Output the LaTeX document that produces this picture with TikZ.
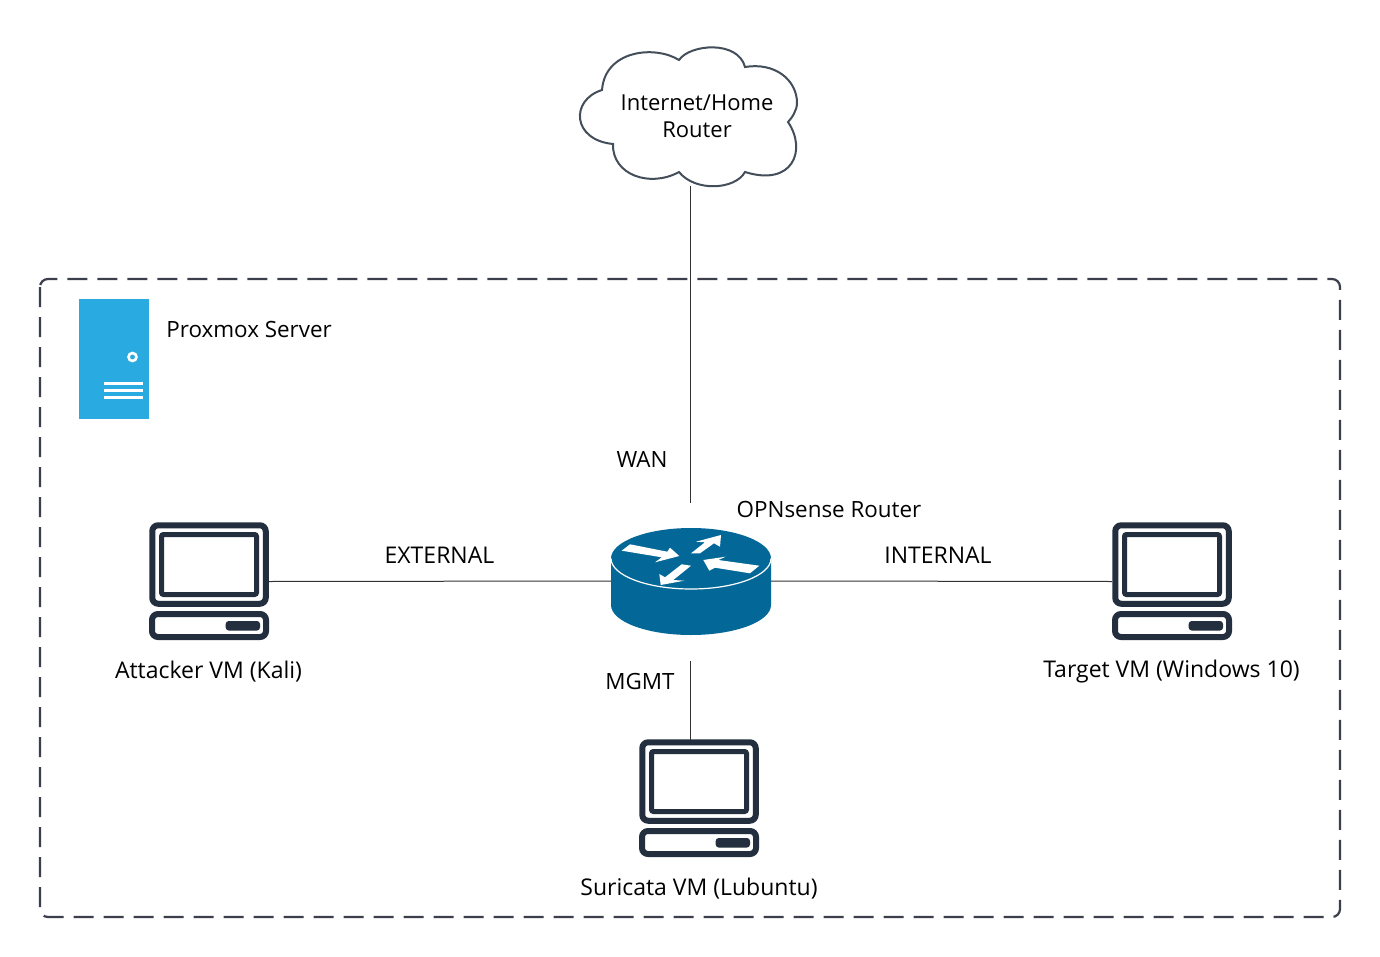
\documentclass[tikz,border=0pt]{standalone}
\usepackage{fontspec}
\setmainfont{Open Sans}
\definecolor{navy}{HTML}{232F3E}
\definecolor{routerblue}{HTML}{036897}
\definecolor{serverblue}{HTML}{29ABE2}
\definecolor{framegrey}{HTML}{3A3F4B}
\definecolor{wiregrey}{HTML}{333333}
\newcommand{\vmbox}[3]{
	\node[vmarea] (#1) at (#2,#3) {};
	\begin{scope}[shift={(#1.center)}]
		\draw[vmline] (-56.75,-56.25) rectangle (56.75,22.25);
		\draw[vmline,line width=2.5pt,rounded corners=1pt] (-47.5,-47) rectangle (47.5,13);
		\draw[vmline] (-57,32.5) rectangle (57,55.5);
		\fill[navy,rounded corners=1.5pt] (16.7,39.5) rectangle (51,49);
	\end{scope}
}
\begin{document}
\begin{tikzpicture}[x=0.5pt,y=-0.5pt,
		lbl/.style={font=\fontsize{11.2}{13.5}\selectfont,text=black,inner sep=0pt,align=center},
		wide/.style={font=\fontsize{11.5}{13.5}\selectfont},
		wire/.style={draw=wiregrey,line width=0.5pt},
		vmarea/.style={minimum width=60pt,minimum height=59pt,inner sep=0pt,outer sep=0pt},
		vmline/.style={draw=navy,line width=3pt,rounded corners=3pt},
		arrowfill/.style={fill=white}]
	\useasboundingbox (0,0) rectangle (1380,957);
	\fill[white] (0,0) rectangle (1380,957);

	\draw[draw=framegrey,line width=1.1pt,dash pattern=on 10pt off 5pt,rounded corners=4pt] (40,279) rectangle (1340,917);

	\node[fill=serverblue,minimum width=35pt,minimum height=60pt,inner sep=0pt] (server) at (114,359) {};
	\draw[white,line width=1.3pt,fill=serverblue] (132.5,357) circle (4);
	\draw[white,line width=1.4pt] (104,383.5) -- (143,383.5);
	\draw[white,line width=1.4pt] (104,390.5) -- (143,390.5);
	\draw[white,line width=1.4pt] (104,397.5) -- (143,397.5);
	\node[lbl,anchor=west] (serverlbl) at (166,329) {Proxmox Server};

	\draw[draw=navy!85!white,line width=1pt,fill=white] (679,60) .. controls (690,44) and (738,40) .. (745,67)
		.. controls (775,62) and (797,80) .. (797,103)
		.. controls (797,110) and (792,118) .. (788,122)
		.. controls (807,150) and (793,187) .. (745,172)
		.. controls (735,190) and (695,192) .. (679,172)
		.. controls (650,188) and (612,175) .. (613,144)
		.. controls (572,140) and (570,100) .. (602,90)
		.. controls (605,50) and (655,45) .. (679,60) -- cycle;
	\node[lbl,font=\fontsize{11}{13.5}\selectfont] (cloud) at (697,116) {Internet/Home\\Router};
	\coordinate (cloudbase) at (690.5,186);

	\node[minimum width=80pt,minimum height=54pt,inner sep=0pt,outer sep=0pt] (router) at (691,581) {};
	\fill[routerblue] (611,558.5) -- (611,605) arc[start angle=180,end angle=0,x radius=80,y radius=30] -- (771,558.5) -- cycle;
	\fill[routerblue] (691,558.5) ellipse[x radius=80,y radius=30.5];
	\draw[white,line width=0.6pt] (611,558.5) arc[start angle=180,end angle=0,x radius=80,y radius=30.5];
	\fill[arrowfill] (621.7,550.7) -- (630,544.3) -- (667.3,551.7) -- (670,547.7) -- (679.3,556) -- (655,562.3) -- (661.7,557.3) -- cycle;
	\fill[arrowfill] (691,553.3) -- (705,542.3) -- (696,541.7) -- (721,535) -- (720,546.7) -- (714,543.3) -- (700,553.3) -- cycle;
	\fill[arrowfill] (759.3,565.7) -- (750,573.3) -- (715,567.7) -- (709.3,570.7) -- (703.3,560) -- (725.7,556.7) -- (718.3,560) -- cycle;
	\fill[arrowfill] (681.7,564.3) -- (691,565.7) -- (673.3,580) -- (684.3,580.7) -- (660.7,585) -- (659.3,574) -- (665,577.3) -- cycle;
	\node[lbl] (routerlbl) at (829,509) {OPNsense Router};

	\vmbox{attacker}{209}{581.5}
	\vmbox{target}{1172}{581.5}
	\vmbox{suricata}{699}{798.5}
	\node[lbl,wide] (attackerlbl) at (208.5,672) {Attacker VM (Kali)};
	\node[lbl,wide] (targetlbl) at (1171.5,672) {Target VM (Windows 10)};
	\node[lbl,wide] (suricatalbl) at (699,889) {Suricata VM (Lubuntu)};

	\coordinate (wanend) at (690.5,503);
	\coordinate (mgmtstart) at (690.5,661);
	\draw[wire] (cloudbase) -- (wanend);
	\draw[wire] (attacker.east) -- (router.west);
	\draw[wire] (router.east) -- (target.west);
	\draw[wire] (mgmtstart) -- (mgmtstart |- suricata.north);

	\node[lbl] (wan) at (642,459) {WAN};
	\node[lbl,wide] (external) at (439.5,555) {EXTERNAL};
	\node[lbl,wide] (internal) at (938,555) {INTERNAL};
	\node[lbl] (mgmt) at (640,681) {MGMT};
\end{tikzpicture}
\end{document}
